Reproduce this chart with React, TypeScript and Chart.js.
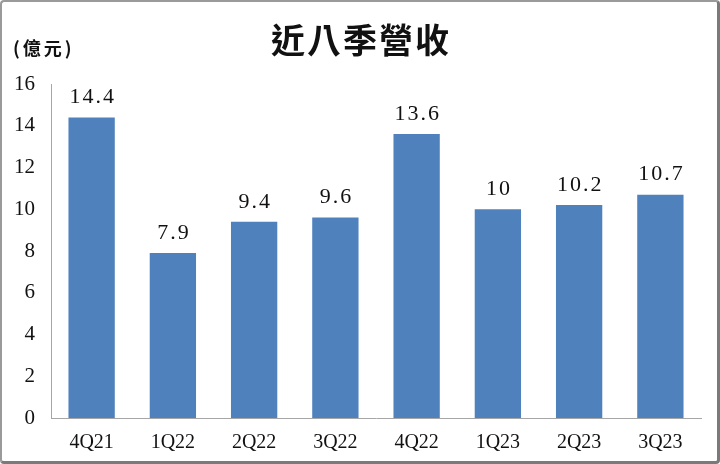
import React, { useEffect, useRef } from "react";
import { Chart, registerables } from "chart.js";

Chart.register(...registerables);

const categories = ["4Q21", "1Q22", "2Q22", "3Q22", "4Q22", "1Q23", "2Q23", "3Q23"];
const revenue = [14.4, 7.9, 9.4, 9.6, 13.6, 10, 10.2, 10.7];
const yTicks = [0, 2, 4, 6, 8, 10, 12, 14, 16];
const titleText = "近八季營收";
const unitText = "(億元)";

const SERIF = "'Liberation Serif', 'Times New Roman', serif";
const CJK = "'Noto Sans CJK TC', 'Noto Sans CJK SC', sans-serif";

const overlayPlugin = {
  id: "overlay",
  afterDatasetsDraw(chart: any) {
    const ctx = chart.ctx;
    ctx.save();
    // data labels
    const meta = chart.getDatasetMeta(0);
    ctx.fillStyle = "#111";
    ctx.font = `22px ${SERIF}`;
    (ctx as any).letterSpacing = "2px";
    ctx.textAlign = "center";
    ctx.textBaseline = "bottom";
    meta.data.forEach((bar: any, i: number) => {
      ctx.fillText(String(revenue[i]), bar.x + 1, bar.y - 9);
    });
    // title
    (ctx as any).letterSpacing = "2px";
    ctx.font = `bold 34px ${CJK}`;
    ctx.textAlign = "center";
    ctx.textBaseline = "middle";
    ctx.fillText(titleText, 361, 40);
    // unit
    (ctx as any).letterSpacing = "3px";
    ctx.font = `bold 18px ${CJK}`;
    ctx.textAlign = "left";
    ctx.fillText(unitText, 13, 48);
    ctx.restore();
  },
};

export default function App() {
  const ref = useRef<HTMLCanvasElement>(null);
  useEffect(() => {
    document.body.style.margin = "0";
    const chart = new Chart(ref.current as HTMLCanvasElement, {
      type: "bar",
      data: {
        labels: categories,
        datasets: [
          {
            data: revenue,
            backgroundColor: "#4F81BD",
            borderWidth: 0,
            barPercentage: 0.57,
            categoryPercentage: 1,
          },
        ],
      },
      options: {
        animation: false,
        responsive: false,
        maintainAspectRatio: false,
        layout: { padding: { top: 84, right: 19, left: 0, bottom: 0 } },
        plugins: {
          legend: { display: false },
          tooltip: { enabled: false },
          title: { display: false },
        },
        scales: {
          x: {
            grid: { display: false, drawTicks: false },
            border: { display: true, color: "#A6A6A6", width: 1 },
            ticks: {
              color: "#111",
              font: { family: SERIF, size: 20 },
              padding: 13,
              maxRotation: 0,
            },
            afterFit: (scale: any) => {
              scale.height = 46;
            },
          },
          y: {
            min: 0,
            max: 16,
            afterBuildTicks: (scale: any) => {
              scale.ticks = yTicks.map((v) => ({ value: v }));
            },
            grid: { display: false, drawTicks: false },
            border: { display: true, color: "#A6A6A6", width: 1 },
            ticks: {
              color: "#111",
              font: { family: SERIF, size: 21 },
              padding: 16,
            },
            afterFit: (scale: any) => {
              scale.width = 51;
            },
          },
        },
      },
      plugins: [overlayPlugin],
    });
    return () => chart.destroy();
  }, []);

  return (
    <div
      style={{
        position: "absolute",
        left: 0,
        top: 0,
        width: 720,
        height: 464,
        boxSizing: "border-box",
        borderTop: "2px solid #9a9a9a",
        borderLeft: "2px solid #9a9a9a",
        borderRight: "3px solid #7a7a7a",
        borderBottom: "3px solid #7a7a7a",
        borderRadius: 4,
        background: "#fff",
        overflow: "hidden",
      }}
    >
      <canvas
        ref={ref}
        width={720}
        height={464}
        style={{ position: "absolute", left: -2, top: -2, width: 720, height: 464 }}
      />
    </div>
  );
}
